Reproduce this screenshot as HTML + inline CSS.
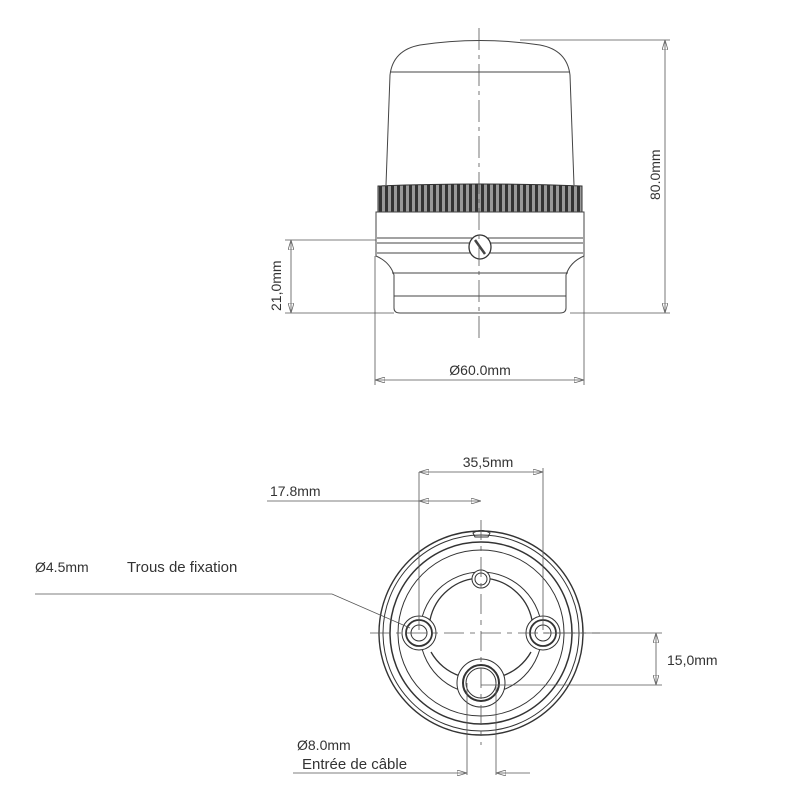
<!DOCTYPE html>
<html><head><style>
html,body{margin:0;padding:0;background:#fff;width:800px;height:800px;overflow:hidden}
svg text{font-family:"Liberation Sans",sans-serif;fill:#333}
</style></head><body>
<svg width="800" height="800" viewBox="0 0 800 800" xmlns="http://www.w3.org/2000/svg">
<defs>
<marker id="a" viewBox="0 0 10 6" refX="10" refY="3" markerWidth="10" markerHeight="6" orient="auto-start-reverse" markerUnits="userSpaceOnUse"><path d="M0,0 L10,3 L0,6 Z" fill="none" stroke="#666" stroke-width="0.8"/></marker>
<pattern id="k" x="0" y="0" width="6" height="30" patternUnits="userSpaceOnUse"><rect width="6" height="30" fill="#999"/><rect x="1" width="3" height="30" fill="#333"/></pattern>
</defs>
<g fill="none" stroke="#444" stroke-width="1">
<path d="M386,185 L390,75 Q393,50 420,45 Q480,36 540,45 Q567,50 570,75 L574,185"/>
<line x1="390" y1="72" x2="570" y2="72"/>
<path d="M378,186 Q480,182 582,186 L582,212 L378,212 Z" fill="url(#k)" stroke="#333"/>
<path d="M376,212 L584,212 L584,256 Q570,262 566,275 L566,308 Q566,313 560,313 L400,313 Q394,313 394,308 L394,275 Q390,262 376,256 Z"/>
<line x1="377" y1="238" x2="583" y2="238"/>
<line x1="377" y1="243" x2="583" y2="243"/>
<line x1="377" y1="253" x2="583" y2="253"/>
<line x1="392" y1="273" x2="568" y2="273"/>
<line x1="394" y1="296" x2="566" y2="296"/>
<ellipse cx="480" cy="247" rx="11" ry="12" fill="#fff" stroke="#333" stroke-width="1.3"/>
<line x1="475" y1="240" x2="485" y2="254" stroke-width="2.5"/>
</g>
<g stroke="#555" stroke-width="0.8" fill="none">
<line x1="479" y1="28" x2="479" y2="340" stroke-dasharray="22,5,4,5"/>
<line x1="520" y1="40" x2="670" y2="40"/>
<line x1="570" y1="313" x2="670" y2="313"/>
<line x1="665" y1="40" x2="665" y2="313" marker-start="url(#a)" marker-end="url(#a)"/>
<line x1="285" y1="240" x2="376" y2="240"/>
<line x1="285" y1="313" x2="394" y2="313"/>
<line x1="291" y1="240" x2="291" y2="313" marker-start="url(#a)" marker-end="url(#a)"/>
<line x1="375" y1="256" x2="375" y2="385"/>
<line x1="584" y1="256" x2="584" y2="385"/>
<line x1="375" y1="380" x2="584" y2="380" marker-start="url(#a)" marker-end="url(#a)"/>
</g>
<text x="0" y="0" font-size="14" transform="translate(660,200) rotate(-90)">80.0mm</text>
<text x="0" y="0" font-size="14" transform="translate(281,311) rotate(-90)">21,0mm</text>
<text x="480" y="375" font-size="14" text-anchor="middle">Ø60.0mm</text>

<g fill="none" stroke="#333" stroke-width="1">
<circle cx="481" cy="633" r="102" stroke-width="1.4"/>
<circle cx="481" cy="633" r="98"/>
<circle cx="481" cy="633" r="91" stroke-width="1.5"/>
<circle cx="481" cy="633" r="83"/>
<circle cx="481" cy="633" r="61"/>
<path d="M430,620 A52,52 0 0 1 532,620 M531,652 A52,52 0 0 1 502,676 M460,676 A52,52 0 0 1 431,652" stroke-width="1.3"/>
<circle cx="419" cy="633" r="17" fill="#fff"/>
<circle cx="419" cy="633" r="13" stroke-width="1.8"/>
<circle cx="419" cy="633" r="8"/>
<circle cx="543" cy="633" r="17" fill="#fff"/>
<circle cx="543" cy="633" r="13" stroke-width="1.8"/>
<circle cx="543" cy="633" r="8"/>
<circle cx="481" cy="579" r="9" fill="#fff"/>
<circle cx="481" cy="579" r="6"/>
<circle cx="481" cy="683" r="24" fill="#fff"/>
<circle cx="481" cy="683" r="18" stroke-width="2"/>
<circle cx="481" cy="683" r="15"/>
<path d="M473,533 Q481,528 490,533 L488,537 L475,537 Z"/>
</g>
<g stroke="#555" stroke-width="0.8" fill="none">
<line x1="370" y1="633" x2="600" y2="633" stroke-dasharray="20,6,5,6"/>
<line x1="481" y1="520" x2="481" y2="745" stroke-dasharray="20,6,5,6"/>
<line x1="419" y1="472" x2="419" y2="630"/>
<line x1="543" y1="468" x2="543" y2="630"/>
<line x1="419" y1="472" x2="543" y2="472" marker-start="url(#a)" marker-end="url(#a)"/>
<line x1="267" y1="501" x2="419" y2="501"/>
<line x1="419" y1="501" x2="481" y2="501" marker-start="url(#a)" marker-end="url(#a)"/>
<line x1="543" y1="633" x2="662" y2="633"/>
<line x1="481" y1="685" x2="662" y2="685"/>
<line x1="656" y1="633" x2="656" y2="685" marker-start="url(#a)" marker-end="url(#a)"/>
<polyline points="35,594 332,594 410,628"/>
<line x1="467" y1="683" x2="467" y2="775"/>
<line x1="496" y1="683" x2="496" y2="775"/>
<line x1="293" y1="773" x2="467" y2="773" marker-end="url(#a)"/>
<line x1="530" y1="773" x2="496" y2="773" marker-end="url(#a)"/>
</g>
<text x="488" y="467" font-size="14" text-anchor="middle">35,5mm</text>
<text x="270" y="496" font-size="14">17.8mm</text>
<text x="35" y="572" font-size="14">Ø4.5mm</text>
<text x="127" y="572" font-size="15">Trous de fixation</text>
<text x="667" y="665" font-size="14">15,0mm</text>
<text x="297" y="750" font-size="14">Ø8.0mm</text>
<text x="302" y="769" font-size="15">Entrée de câble</text>
</svg>
</body></html>
